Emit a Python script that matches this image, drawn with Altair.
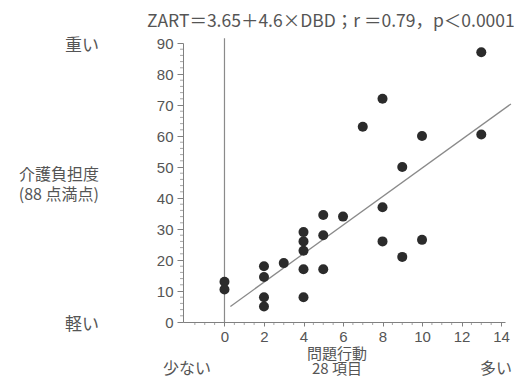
import altair as alt
import pandas as pd

# ---- data ----
problem_behavior = [0, 0, 2, 2, 2, 2, 3, 4, 4, 4, 4, 4, 5, 5, 5, 6, 7, 8, 8, 8, 9, 9, 10, 10, 13, 13]
care_burden = [13, 10.5, 18, 14.5, 8, 5, 19, 29, 26, 23, 17, 8, 34.5, 28, 17, 34, 63, 72, 37, 26, 50, 21, 60, 26.5, 87, 60.5]

fit_intercept = 3.65
fit_slope = 4.6
fit_x_range = [0.3, 14.5]

x_major_ticks = [0, 2, 4, 6, 8, 10, 12, 14]
x_minor_ticks = [v / 2 for v in range(-4, 29) if v % 4 != 0]
y_major_ticks = [0, 10, 20, 30, 40, 50, 60, 70, 80, 90]
y_minor_ticks = [v for v in range(0, 91, 2) if v % 10 != 0]
zero_line_y = [0, 91.5]

title_text = "ZART＝3.65＋4.6×DBD；r ＝0.79，p＜0.0001"
label_heavy = "重い"
label_light = "軽い"
y_title_lines = ["介護負担度", "(88 点満点)"]
x_title_lines = ["問題行動", "28 項目"]
label_few = "少ない"
label_many = "多い"

points = pd.DataFrame({"x": problem_behavior, "y": care_burden})
fit = pd.DataFrame({"x": fit_x_range, "y": [fit_intercept + fit_slope * v for v in fit_x_range]})
zero_line = pd.DataFrame({"x": [0, 0], "y": zero_line_y})
xminor = pd.DataFrame({"x": x_minor_ticks, "y": [0] * len(x_minor_ticks)})
yminor = pd.DataFrame({"x": [-2.1] * len(y_minor_ticks), "y": y_minor_ticks})

FONT_NUM = "Liberation Sans"
FONT_JP = "Noto Sans CJK JP"
AX = "#808080"
TXT = "#555555"

xs = alt.Scale(domain=[-2.1, 14.2], nice=False, zero=False)
ys = alt.Scale(domain=[0, 90], nice=False, zero=False)

major_x_axis = alt.Axis(values=x_major_ticks, title=None, grid=False, tickSize=4, labelPadding=3,
                        labelFontSize=15, labelFont=FONT_NUM, labelColor=TXT, domainColor=AX,
                        tickColor=AX, orient="bottom", labelFlush=False)
major_y_axis = alt.Axis(values=y_major_ticks, title=None, grid=False, tickSize=6, labelPadding=4,
                        labelFontSize=15, labelFont=FONT_NUM, labelColor=TXT, domainColor=AX,
                        tickColor=AX, orient="left", labelFlush=False)

X = alt.X("x:Q", scale=xs, axis=major_x_axis)
Y = alt.Y("y:Q", scale=ys, axis=major_y_axis)

rule0 = alt.Chart(zero_line).mark_line(color="#8a8a8a", strokeWidth=1.2, clip=False).encode(x=X, y=Y)

xminor_ticks = alt.Chart(xminor).mark_tick(orient="vertical", size=3, thickness=1, color=AX,
                                           yOffset=1.5, clip=False).encode(x=X, y=Y)

yminor_ticks = alt.Chart(yminor).mark_tick(orient="horizontal", size=3, thickness=1, color=AX,
                                           xOffset=-1.5, clip=False).encode(x=X, y=Y)

fit_line = alt.Chart(fit).mark_line(color="#8a8a8a", strokeWidth=1.3, clip=False).encode(x=X, y=Y)

dots = alt.Chart(points).mark_circle(color="#2b2b2b", opacity=1, size=100).encode(x=X, y=Y)

one = pd.DataFrame({"a": [0]})


def txt(text, x, y, align="left", size=17, font=FONT_JP, baseline="alphabetic"):
    return alt.Chart(one).mark_text(text=text, align=align, baseline=baseline, fontSize=size,
                                    font=font, color=TXT).encode(x=alt.value(x), y=alt.value(y))


# plot origin is at page (183, 43)
annotations = [
    txt(title_text, -36, -16, size=17.5),
    txt(label_heavy, -84, 8, align="right"),
    txt(y_title_lines[0], -84, 137, align="right", size=16),
    txt(y_title_lines[1], -84, 157, align="right", size=16),
    txt(label_light, -84, 287, align="right"),
    txt(x_title_lines[0], 154, 316, align="center", size=15),
    txt(x_title_lines[1], 154, 331, align="center", size=15),
    txt(label_few, 4, 331, align="center", size=16),
    txt(label_many, 329, 331, align="right", size=16),
]

chart = alt.layer(rule0, xminor_ticks, yminor_ticks, fit_line, dots, *annotations).properties(
    width=322, height=279,
    autosize=alt.AutoSizeParams(type="none"),
    padding={"left": 175, "top": 35, "right": 9, "bottom": 56},
    background="white",
).configure_view(stroke=None)

chart.save("out.html", embed_options={"renderer": "svg", "actions": False})
